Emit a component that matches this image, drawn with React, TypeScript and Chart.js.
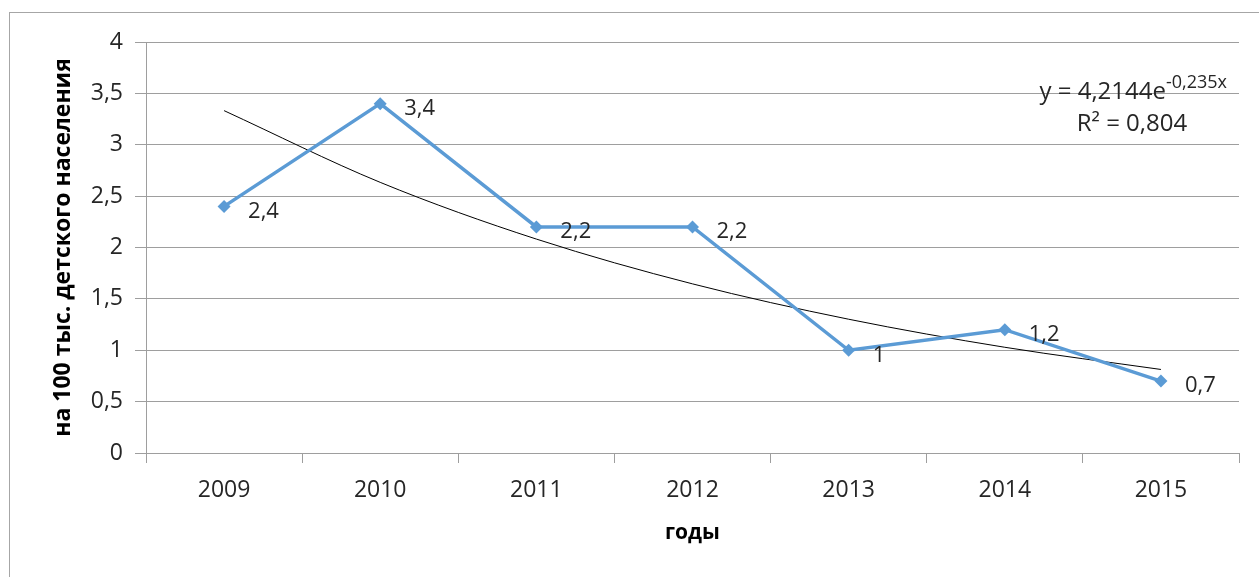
import React, { useEffect, useRef } from "react";
import { Chart, registerables } from "chart.js";

Chart.register(...registerables);

const years = ["2009", "2010", "2011", "2012", "2013", "2014", "2015"];
const rates = [2.4, 3.4, 2.2, 2.2, 1, 1.2, 0.7];
// exponential trendline values (y = 4,2144e^-0,235x)
const trendValues = [3.332, 2.634, 2.082, 1.646, 1.302, 1.029, 0.813];
const yTitle = "на 100 тыс. детского населения";
const xTitle = "годы";
const eqMain = "y = 4,2144e";
const eqExp = "-0,235x";
const eqR2 = "R² = 0,804";

const FONT = "'Open Sans', 'DejaVu Sans', sans-serif";
const fmt = (v: number) => String(v).replace(".", ",");

const extrasPlugin = {
  id: "extras",
  beforeDraw(chart: any) {
    const ctx = chart.ctx;
    ctx.save();
    ctx.fillStyle = "#ffffff";
    ctx.fillRect(0, 0, chart.width, chart.height);
    ctx.strokeStyle = "#a6a6a6";
    ctx.lineWidth = 1;
    ctx.strokeRect(9.5, 12.5, chart.width + 20, chart.height + 20);
    ctx.restore();
  },
  afterDatasetsDraw(chart: any) {
    const ctx = chart.ctx;
    ctx.save();
    // data labels
    const meta = chart.getDatasetMeta(0);
    ctx.font = `22px ${FONT}`;
    ctx.fillStyle = "#262626";
    ctx.textAlign = "left";
    ctx.textBaseline = "middle";
    meta.data.forEach((pt: any, i: number) => {
      ctx.fillText(fmt(rates[i]), pt.x + 24, pt.y + 5);
    });
    // equation
    const right = 1227;
    ctx.font = `18px ${FONT}`;
    const wExp = ctx.measureText(eqExp).width;
    ctx.font = `24px ${FONT}`;
    const wMain = ctx.measureText(eqMain).width;
    const startX = right - wExp - wMain;
    ctx.fillStyle = "#262626";
    ctx.fillText(eqMain, startX, 92);
    ctx.font = `18px ${FONT}`;
    ctx.fillText(eqExp, startX + wMain, 83);
    ctx.font = `24px ${FONT}`;
    ctx.textAlign = "center";
    ctx.fillText(eqR2, 1132, 124);
    ctx.restore();
  },
};

export default function App() {
  const ref = useRef<HTMLCanvasElement>(null);
  useEffect(() => {
    document.body.style.margin = "0";
    const chart = new Chart(ref.current!, {
      type: "line",
      data: {
        labels: years,
        datasets: [
          {
            data: rates,
            borderColor: "#5b9bd5",
            backgroundColor: "#5b9bd5",
            borderWidth: 3.5,
            pointStyle: "rectRot",
            pointRadius: 6.5,
            pointBorderWidth: 0,
            tension: 0,
            order: 1,
          },
          {
            data: trendValues,
            borderColor: "#000000",
            borderWidth: 1,
            pointRadius: 0,
            cubicInterpolationMode: "monotone",
            order: 2,
          },
        ],
      },
      plugins: [extrasPlugin],
      options: {
        animation: false,
        responsive: false,
        maintainAspectRatio: false,
        events: [],
        layout: { padding: { left: 0, top: 42, right: 20, bottom: 0 } },
        plugins: { legend: { display: false }, tooltip: { enabled: false } },
        scales: {
          x: {
            offset: true,
            grid: {
              offset: true,
              drawOnChartArea: false,
              drawTicks: true,
              tickLength: 10,
              color: "#9e9e9e",
            },
            border: { color: "#9e9e9e" },
            ticks: { font: { family: FONT, size: 23 }, color: "#262626", padding: 14 },
            title: {
              display: true,
              text: xTitle,
              font: { family: FONT, size: 21, weight: "bold" },
              color: "#000000",
              padding: { top: 0, bottom: 31 },
            },
            afterFit: (s: any) => {
              s.height = 124;
            },
          },
          y: {
            min: 0,
            max: 4,
            ticks: {
              stepSize: 0.5,
              font: { family: FONT, size: 23 },
              color: "#262626",
              padding: 12,
              callback: (v: any) => fmt(Number(v)),
            },
            grid: { color: "#9e9e9e", tickLength: 11 },
            border: { color: "#9e9e9e" },
            title: {
              display: true,
              text: yTitle,
              font: { family: FONT, size: 23, weight: "bold" },
              color: "#000000",
              padding: { top: 50, bottom: 0 },
            },
            afterFit: (s: any) => {
              s.width = 146;
            },
          },
        },
      },
    });
    return () => chart.destroy();
  }, []);
  return <canvas ref={ref} width={1259} height={577} style={{ display: "block" }} />;
}
